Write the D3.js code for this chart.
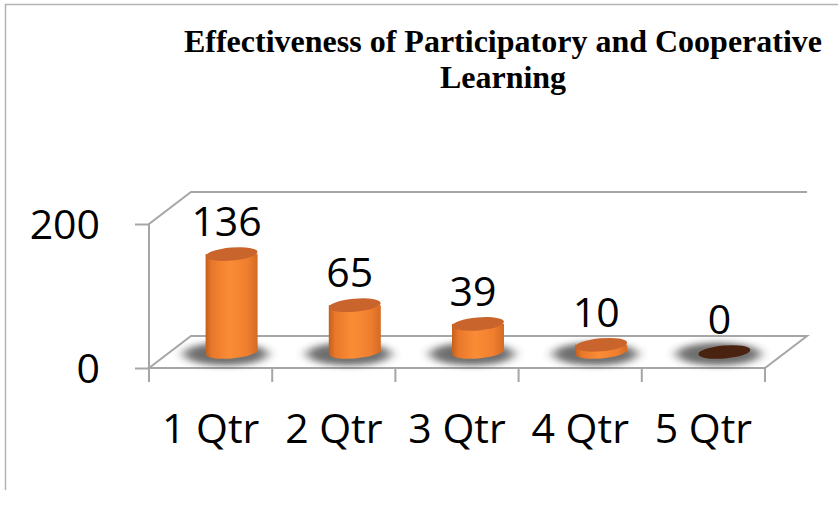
<!DOCTYPE html>
<html>
<head>
<meta charset="utf-8">
<script src="https://cdn.jsdelivr.net/npm/d3@7"></script>
<style>
  body { margin: 0; background: #fff; }
  svg { display: block; }
</style>
</head>
<body>
<div id="chart"></div>
<script>
const categories = ["1 Qtr", "2 Qtr", "3 Qtr", "4 Qtr", "5 Qtr"];
const values = [136, 65, 39, 10, 0];
const yTicks = [0, 200];
const titleLines = ["Effectiveness of Participatory and Cooperative", "Learning"];

const W = 838, H = 507;
const depthX = 42, depthY = -32;   // 3d floor offset
const labelFont = "'Open Sans', sans-serif";
const labelSize = "41px";

const svg = d3.select("#chart").append("svg")
    .attr("width", W)
    .attr("height", H);

const defs = svg.append("defs");

const grad = defs.append("linearGradient")
    .attr("id", "cyl")
    .attr("x1", "0%").attr("x2", "100%")
    .attr("y1", "0%").attr("y2", "0%");
grad.append("stop").attr("offset", "0%").attr("stop-color", "#c55e1d");
grad.append("stop").attr("offset", "12%").attr("stop-color", "#e8782a");
grad.append("stop").attr("offset", "45%").attr("stop-color", "#fb8c36");
grad.append("stop").attr("offset", "80%").attr("stop-color", "#ef7f2e");
grad.append("stop").attr("offset", "100%").attr("stop-color", "#d46a24");

const blur = defs.append("filter")
    .attr("id", "shadowBlur")
    .attr("x", "-50%").attr("y", "-100%")
    .attr("width", "200%").attr("height", "300%");
blur.append("feGaussianBlur").attr("stdDeviation", "6 3");

// outer frame
svg.append("path")
    .attr("d", `M5.5,490 V4.5 H${W}`)
    .attr("fill", "none")
    .attr("stroke", "#b3b3b3")
    .attr("stroke-width", 1.5);

// title
svg.selectAll(".title")
    .data(titleLines)
    .join("text")
        .attr("class", "title")
        .attr("x", 503)
        .attr("y", (d, i) => 52 + i * 36)
        .attr("text-anchor", "middle")
        .style("font-family", "'Liberation Serif', 'Times New Roman', serif")
        .style("font-weight", "bold")
        .style("font-size", "32px")
        .text(d => d);

const x = d3.scaleBand()
    .domain(categories)
    .range([149, 765]);

const y = d3.scaleLinear()
    .domain([0, 200])
    .range([368, 224]);

const x0 = x.range()[0], x1 = x.range()[1];
const gridColor = "#a6a6a6";

// walls and floor
const walls = svg.append("g")
    .attr("fill", "none")
    .attr("stroke", gridColor)
    .attr("stroke-width", 2);

// left wall
walls.append("path")
    .attr("d", `M${x0},${y(0)} V${y(200)} L${x0 + depthX},${y(200) + depthY} H${x1 + depthX}`);
// floor
walls.append("path")
    .attr("d", `M${x0},${y(0)} L${x0 + depthX},${y(0) + depthY} H${x1 + depthX} L${x1},${y(0)} Z`);

// y axis
const yAxis = svg.append("g")
    .attr("transform", `translate(${x0},0)`)
    .call(d3.axisLeft(y).tickValues(yTicks).tickSize(14).tickPadding(35));
yAxis.select(".domain").remove();
yAxis.selectAll(".tick line").attr("stroke", gridColor).attr("stroke-width", 2);
yAxis.selectAll(".tick text")
    .style("font-family", labelFont)
    .style("font-size", labelSize)
    .attr("fill", "#000")
    .attr("dy", "0.36em");

// x axis boundaries
const bounds = categories.map(c => x(c)).concat([x1]);
svg.append("g").selectAll("line")
    .data(bounds)
    .join("line")
        .attr("x1", d => d).attr("x2", d => d)
        .attr("y1", y(0)).attr("y2", y(0) + 14)
        .attr("stroke", gridColor)
        .attr("stroke-width", 2);

const xAxis = svg.append("g")
    .attr("transform", `translate(0,${y(0)})`)
    .call(d3.axisBottom(x).tickSize(0).tickPadding(46));
xAxis.select(".domain").remove();
xAxis.selectAll(".tick text")
    .style("font-family", labelFont)
    .style("font-size", labelSize)
    .attr("fill", "#000");

// cylinders
const rx = 26, ry = 6.5, tilt = -5;
const bars = svg.append("g");
const cx = d => x(d.cat) + x.bandwidth() / 2 + depthX / 2;
const base = y(0) + depthY / 2;
const barTop = d => y(d.val) + depthY / 2;
const data = categories.map((c, i) => ({cat: c, val: values[i]}));

// shadows
bars.selectAll(".shadow")
    .data(data)
    .join("ellipse")
        .attr("class", "shadow")
        .attr("cx", d => cx(d) - 6)
        .attr("cy", base + 2)
        .attr("rx", rx + 16)
        .attr("ry", ry + 5)
        .attr("fill", "#333")
        .attr("opacity", 0.7)
        .attr("filter", "url(#shadowBlur)");

const cyl = bars.selectAll(".cyl")
    .data(data.filter(d => d.val > 0))
    .join("g")
        .attr("class", "cyl");

cyl.append("ellipse")
    .attr("cx", d => cx(d))
    .attr("cy", base)
    .attr("rx", rx)
    .attr("ry", ry)
    .attr("transform", d => `rotate(${tilt},${cx(d)},${base})`)
    .attr("fill", "url(#cyl)");

cyl.append("rect")
    .attr("x", d => cx(d) - rx)
    .attr("y", d => barTop(d))
    .attr("width", rx * 2)
    .attr("height", d => base - barTop(d))
    .attr("fill", "url(#cyl)");

cyl.append("ellipse")
    .attr("cx", d => cx(d))
    .attr("cy", d => barTop(d))
    .attr("rx", rx)
    .attr("ry", ry)
    .attr("transform", d => `rotate(${tilt},${cx(d)},${barTop(d)})`)
    .attr("fill", "#c9652c");

// zero value: flat disc
bars.selectAll(".zero")
    .data(data.filter(d => d.val === 0))
    .join("ellipse")
        .attr("class", "zero")
        .attr("cx", d => cx(d))
        .attr("cy", base)
        .attr("rx", rx)
        .attr("ry", ry)
        .attr("transform", d => `rotate(${tilt},${cx(d)},${base})`)
        .attr("fill", "#4a2210");

// value labels
svg.append("g").selectAll("text")
    .data(data)
    .join("text")
        .attr("x", d => cx(d) - 5)
        .attr("y", d => barTop(d) - 18)
        .attr("text-anchor", "middle")
        .style("font-family", labelFont)
        .style("font-size", labelSize)
        .attr("fill", "#000")
        .text(d => d.val);
</script>
</body>
</html>
